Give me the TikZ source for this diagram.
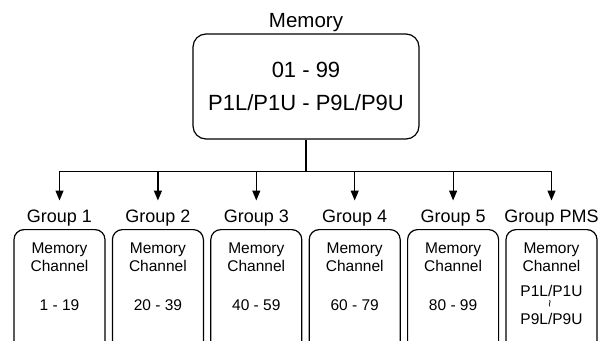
\documentclass[tikz,border=0pt]{standalone}
\usepackage{fontspec}
\setmainfont{Liberation Sans}
\usetikzlibrary{arrows.meta,positioning}
\begin{document}
\begin{tikzpicture}[x=1pt,y=-1pt,line width=1.2pt,
membox/.style={draw,rounded corners=13pt,minimum width=226pt,minimum height=105pt,
  align=center,font=\fontsize{22}{33.7}\selectfont},
grpbox/.style={draw,rounded corners=10pt,anchor=north,minimum width=91pt,minimum height=140pt},
grplabel/.style={font=\fontsize{18}{18}\selectfont,inner sep=0pt,text height=13pt,
  text depth=4pt,outer ysep=9pt},
chantext/.style={anchor=base,inner sep=0pt,align=center,font=\fontsize{15.5}{17.5}\selectfont},
feed/.style={-{Triangle[length=10pt,width=8pt]}}]
\useasboundingbox (0,0) rectangle (609,340);
% top memory box
\node[anchor=base,font=\fontsize{20.5}{20.5}\selectfont] (memlabel) at (306,27) {Memory};
\node[membox] (mem) at (306,86.5) {01 - 99\\P1L/P1U - P9L/P9U};
\draw (mem.south) -- ++(0,32) coordinate (split);
% groups
\foreach \i/\rng in {1/1 - 19,2/20 - 39,3/40 - 59,4/60 - 79,5/80 - 99}{
  \node[grplabel] (gl\i) at ({59.5+98.4*(\i-1)},218) {Group \i};
  \node[grpbox] (g\i) at ({59.5+98.4*(\i-1)},229) {};
  \node[chantext] (ch\i) at ({59.5+98.4*(\i-1)},271) {Memory\\Channel};
  \node[chantext] (rg\i) at ({59.5+98.4*(\i-1)},310) {\rng};
  \draw[feed] (split) -| (gl\i.north);
}
\node[grplabel] (gl6) at (551.5,218) {Group PMS};
\node[grpbox] (g6) at (551.5,229) {};
\node[chantext] (ch6) at (551.5,271) {Memory\\Channel};
\node[chantext] (rga6) at (551.5,296.7) {P1L/P1U};
\node[inner sep=0pt] (tilde6) at (551.5,303.5) {\rotatebox{90}{\fontsize{13}{13}\selectfont\textasciitilde}};
\node[chantext] (rgb6) at (551.5,324.3) {P9L/P9U};
\draw[feed] (split) -| (gl6.north);
\end{tikzpicture}
\end{document}
